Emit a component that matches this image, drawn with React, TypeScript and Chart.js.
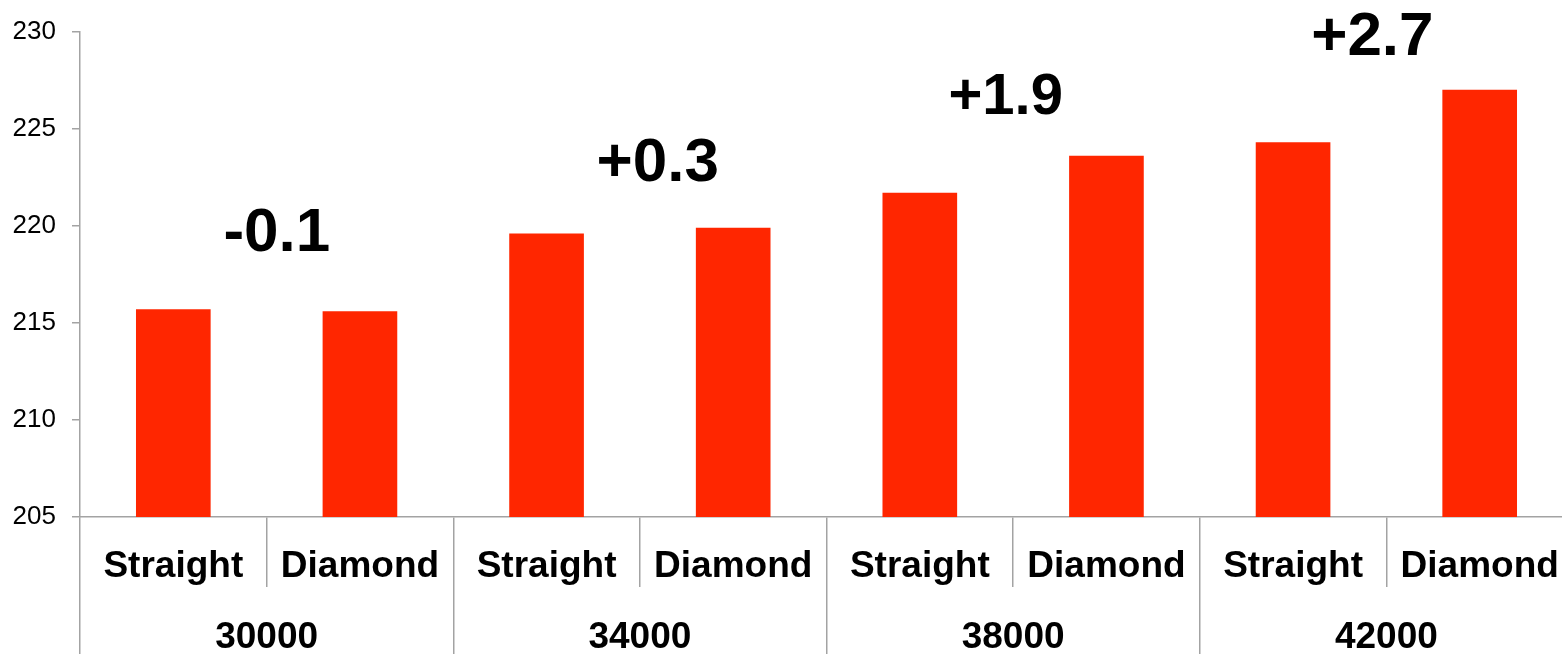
import React, { useEffect, useRef } from "react";
import { Chart, registerables } from "chart.js";

Chart.register(...registerables);

const categories = ["Straight", "Diamond", "Straight", "Diamond", "Straight", "Diamond", "Straight", "Diamond"];
const groups = ["30000", "34000", "38000", "42000"];
const values = [215.7, 215.6, 219.6, 219.9, 221.7, 223.6, 224.3, 227.0];
const yTicks = [205, 210, 215, 220, 225, 230];
const diffLabels = ["-0.1", "+0.3", "+1.9", "+2.7"];
const diffLabelY = [219.6, 223.2, 226.6, 229.7];
const diffLabelCat = [0.555, 2.596, 4.46, 6.425];

const GRAY = "#a3a3a3";
const FONT = "'Liberation Sans', Arial, Helvetica, sans-serif";

export default function App() {
  const ref = useRef<HTMLCanvasElement | null>(null);

  useEffect(() => {
    if (!ref.current) return;
    const diffPlugin = {
      id: "diffLabels",
      afterDatasetsDraw(chart: any) {
        const ctx = chart.ctx;
        const xs = chart.scales.x;
        const ys = chart.scales.y;
        ctx.save();
        ctx.fillStyle = "#000";
        ctx.textAlign = "center";
        ctx.textBaseline = "middle";
        diffLabels.forEach((t, i) => {
          ctx.font = `bold ${i === 2 ? 58 : 62}px ${FONT}`;
          ctx.fillText(t, xs.getPixelForValue(diffLabelCat[i]), ys.getPixelForValue(diffLabelY[i]));
        });
        ctx.restore();
      },
    };

    const chart = new Chart(ref.current, {
      type: "bar",
      data: {
        labels: categories,
        datasets: [
          {
            data: values,
            backgroundColor: "#ff2600",
            borderWidth: 0,
            categoryPercentage: 1,
            barPercentage: 0.4,
            xAxisID: "x",
            yAxisID: "y",
          },
        ],
      },
      options: {
        animation: false,
        responsive: false,
        maintainAspectRatio: false,
        layout: { padding: { left: 8, right: 7, top: 31, bottom: 0 } },
        plugins: { legend: { display: false }, tooltip: { enabled: false } },
        scales: {
          y: {
            min: yTicks[0],
            max: yTicks[yTicks.length - 1],
            afterBuildTicks: (scale: any) => {
              scale.ticks = yTicks.map((v) => ({ value: v }));
            },
            afterFit: (scale: any) => {
              scale.width = 72;
            },
            ticks: {
              color: "#000",
              font: { family: FONT, size: 26 },
              padding: 16,
            },
            grid: {
              drawOnChartArea: false,
              tickLength: 8,
              color: GRAY,
              lineWidth: 1.5,
            },
            border: { color: GRAY, width: 1.5 },
          },
          x: {
            position: "bottom",
            offset: true,
            afterFit: (scale: any) => {
              scale.height = 70;
            },
            ticks: {
              color: "#000",
              font: { family: FONT, size: 37, weight: "bold", lineHeight: 1.2 },
              padding: -42,
              maxRotation: 0,
              autoSkip: false,
            },
            grid: {
              offset: true,
              drawOnChartArea: false,
              tickLength: 70,
              color: GRAY,
              lineWidth: 1.5,
            },
            border: { color: GRAY, width: 1.5 },
          },
          x2: {
            type: "category",
            position: "bottom",
            labels: groups,
            offset: true,
            afterFit: (scale: any) => {
              scale.height = 67;
            },
            ticks: {
              color: "#000",
              font: { family: FONT, size: 37, weight: "bold", lineHeight: 1.2 },
              padding: -38.5,
              maxRotation: 0,
              autoSkip: false,
            },
            grid: {
              offset: true,
              drawOnChartArea: false,
              tickLength: 67,
              color: GRAY,
              lineWidth: 1.5,
            },
            border: { display: false },
          },
        },
      } as any,
      plugins: [diffPlugin],
    });
    return () => chart.destroy();
  }, []);

  return (
    <div
      style={{
        position: "fixed",
        left: 0,
        top: 0,
        width: 1562,
        height: 654,
        overflow: "hidden",
        background: "#fff",
      }}
    >
      <canvas ref={ref} width={1580} height={654} style={{ display: "block" }} />
    </div>
  );
}
